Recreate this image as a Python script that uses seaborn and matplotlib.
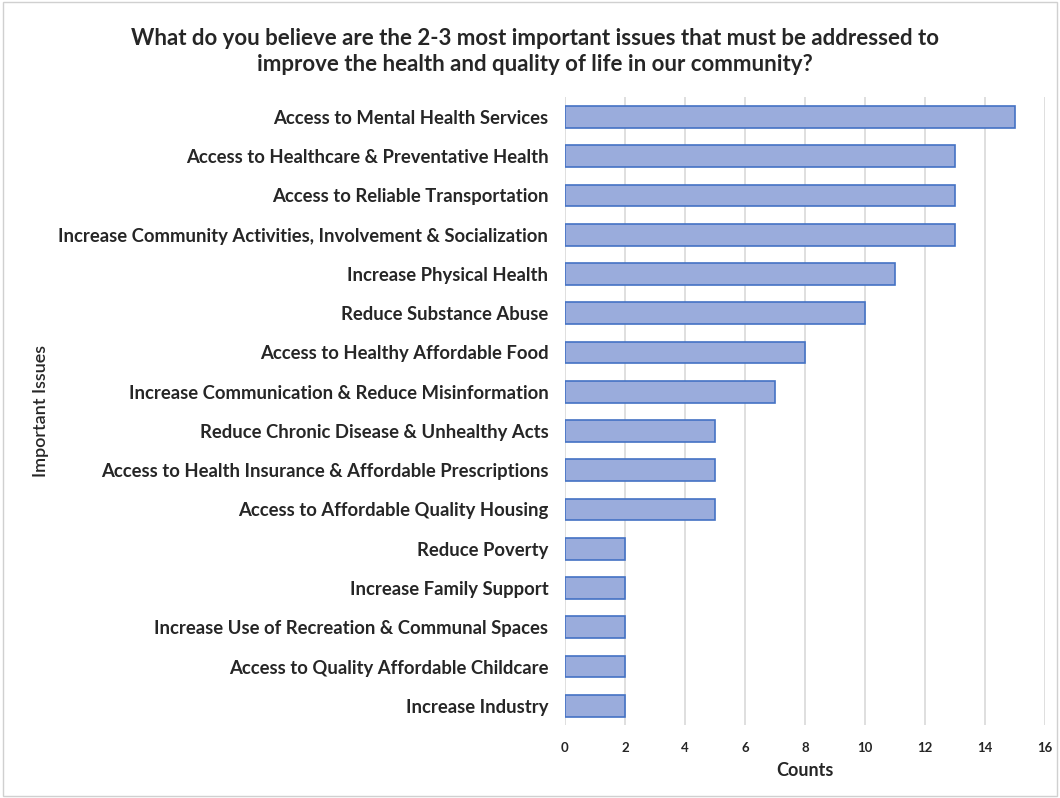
import seaborn as sns
import matplotlib.pyplot as plt
import pandas as pd
from matplotlib.patches import Rectangle

issues = [
    "Access to Mental Health Services",
    "Access to Healthcare & Preventative Health",
    "Access to Reliable Transportation",
    "Increase Community Activities, Involvement & Socialization",
    "Increase Physical Health",
    "Reduce Substance Abuse",
    "Access to Healthy Affordable Food",
    "Increase Communication & Reduce Misinformation",
    "Reduce Chronic Disease & Unhealthy Acts",
    "Access to Health Insurance & Affordable Prescriptions",
    "Access to Affordable Quality Housing",
    "Reduce Poverty",
    "Increase Family Support",
    "Increase Use of Recreation & Communal Spaces",
    "Access to Quality Affordable Childcare",
    "Increase Industry",
]
counts = [15, 13, 13, 13, 11, 10, 8, 7, 5, 5, 5, 2, 2, 2, 2, 2]

df = pd.DataFrame({"issue": issues, "count": counts})

sns.set_style("white")
plt.rcParams["font.family"] = ["Lato", "DejaVu Sans"]

fig = plt.figure(figsize=(10.6, 7.98), dpi=100)
ax = fig.add_axes([0.533, 0.091, 0.453, 0.787])

sns.barplot(data=df, x="count", y="issue", color="#9aacdc", edgecolor="#4472c4",
            linewidth=1.2, width=0.55, saturation=1, ax=ax)

ax.set_xlim(0, 16)
ax.set_xticks(range(0, 17, 2))
ax.grid(axis="x", color="#d9d9d9", linewidth=1.2)
ax.set_axisbelow(True)
for s in ax.spines.values():
    s.set_visible(False)
ax.tick_params(axis="y", length=0, pad=12, labelsize=13.3)
ax.tick_params(axis="x", length=0, pad=12, labelsize=9.5)
for t in ax.get_yticklabels():
    t.set_fontweight("bold")
for t in ax.get_xticklabels():
    t.set_fontweight("bold")
ax.set_ylabel("Important Issues", fontsize=13, fontweight="semibold")
ax.yaxis.set_label_coords(-1.075, 0.5)
ax.set_xlabel("Counts", fontsize=13, fontweight="bold", labelpad=6)

fig.text(0.505, 0.935,
         "What do you believe are the 2-3 most important issues that must be addressed to\n"
         "improve the health and quality of life in our community?",
         ha="center", va="center", fontsize=16, fontweight="bold", linespacing=1.3)

fig.patches.append(Rectangle((0.003, 0.003), 0.994, 0.994, transform=fig.transFigure,
                             fill=False, edgecolor="#d0d0d0", linewidth=1))

fig.savefig("out.png", dpi=100, facecolor="white")
